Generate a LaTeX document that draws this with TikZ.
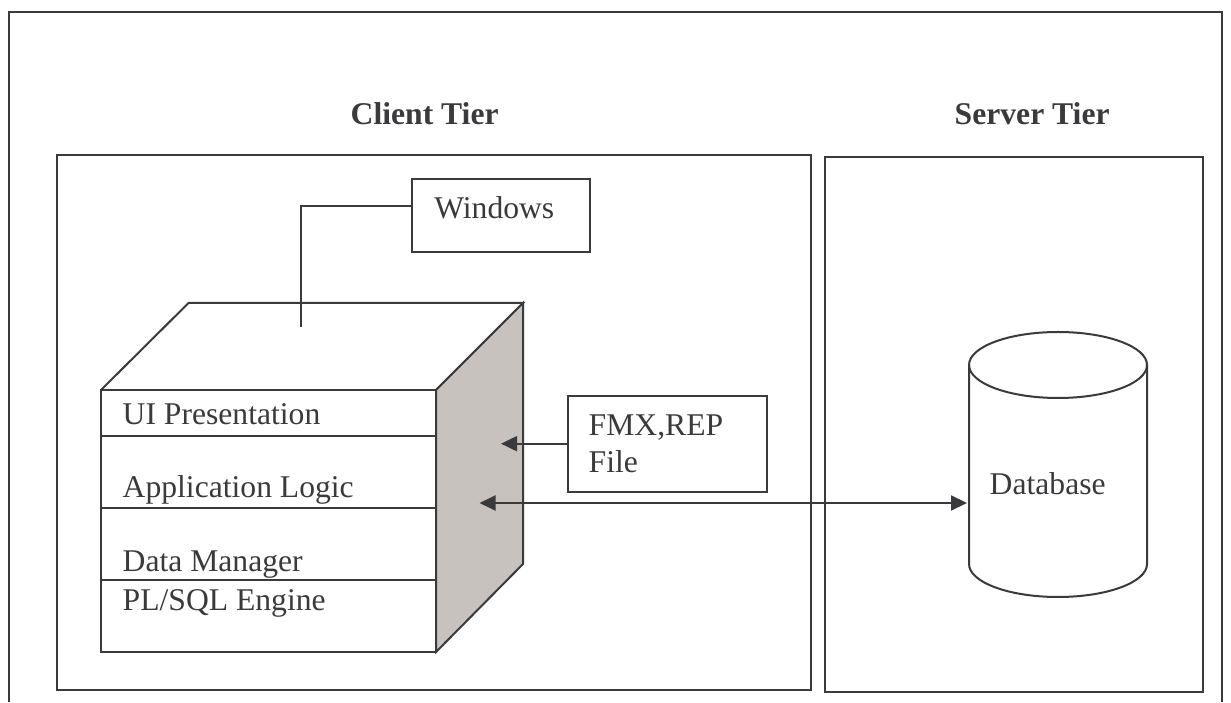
\documentclass[tikz,border=0pt]{standalone}
\usepackage{fontspec}
\setmainfont{Liberation Serif}
\usetikzlibrary{arrows.meta}
\definecolor{inkgray}{HTML}{3A3A3D}
\definecolor{sidegray}{HTML}{C8C2BE}
\tikzset{
  tierbox/.style={draw=inkgray,line width=0.2mm,rectangle,inner sep=0pt,outer sep=0pt},
  tierlabel/.style={anchor=base west,inner sep=0pt,text=inkgray,font=\fontsize{9}{11}\selectfont\bfseries},
  layerlabel/.style={anchor=base west,inner sep=0pt,text=inkgray,font=\fontsize{9}{11}\selectfont},
  wire/.style={draw=inkgray,line width=0.2mm},
  tip/.style={-{Triangle[length=.16cm,width=.15cm]}},
  dbltip/.style={{Triangle[length=.16cm,width=.15cm]}-{Triangle[length=.16cm,width=.15cm]}}
}
\begin{document}
\begin{tikzpicture}
    \useasboundingbox (0,0) rectangle (12.31,7.02);
    \draw[wire] (.085,0) -- (.085,6.895) -- (12.22,6.895) -- (12.22,0);
    \node[tierlabel] (clientlabel) at (3.50,5.77) {Client Tier};
    \node[tierlabel] (serverlabel) at (9.54,5.77) {Server Tier};
    \node[tierbox,minimum width=7.54cm,minimum height=5.35cm] (clienttier) at (4.34,2.795) {};
    \node[tierbox,minimum width=3.78cm,minimum height=5.35cm] (servertier) at (10.14,2.775) {};
    \draw[wire] (1.01,3.12) -- (1.885,3.99) -- (5.23,3.99) -- (4.36,3.12);
    \draw[wire,fill=sidegray] (4.36,3.12) -- (5.23,3.99) -- (5.23,1.38) -- (4.36,.50) -- cycle;
    \draw[wire] (1.01,.50) rectangle (4.36,3.12);
    \draw[wire] (1.01,2.66) -- (4.36,2.66);
    \draw[wire] (1.01,1.94) -- (4.36,1.94);
    \draw[wire] (1.01,1.22) -- (4.36,1.22);
    \node[layerlabel] (uilayer) at (1.22,2.77) {UI Presentation};
    \node[layerlabel] (applayer) at (1.22,2.04) {Application Logic};
    \node[layerlabel] (datalayer) at (1.22,1.30) {Data Manager};
    \node[layerlabel] (plsqllayer) at (1.22,.92) {PL/SQL Engine};
    \node[tierbox,minimum width=1.785cm,minimum height=.73cm] (windows) at (5.0075,4.865) {};
    \node[layerlabel] (windowslabel) at (4.336,4.83) {Windows};
    \coordinate (wirefoot) at (3.01,3.75);
    \draw[wire] ([yshift=.09cm]windows.west) -| (wirefoot);
    \node[tierbox,minimum width=1.995cm,minimum height=.96cm] (fmxfile) at (6.6725,2.583) {};
    \node[layerlabel] (fmxlabel) at (5.88,2.66) {FMX,REP};
    \node[layerlabel] (filelabel) at (5.88,2.29) {File};
    \coordinate (fmxport) at (5.01,2.583);
    \draw[wire,tip] (fmxfile.west) -- (fmxport);
    \draw[wire] (10.58,3.37) ellipse (.89 and .33);
    \draw[wire] (9.69,3.37) -- (9.69,1.38) arc (180:360:.89 and .33) -- (11.47,3.37);
    \node[layerlabel] (databaselabel) at (9.89,2.07) {Database};
    \coordinate (cubeport) at (4.795,1.99);
    \coordinate (dbport) at (9.67,1.99);
    \draw[wire,dbltip] (cubeport) -- (dbport);
\end{tikzpicture}
\end{document}
